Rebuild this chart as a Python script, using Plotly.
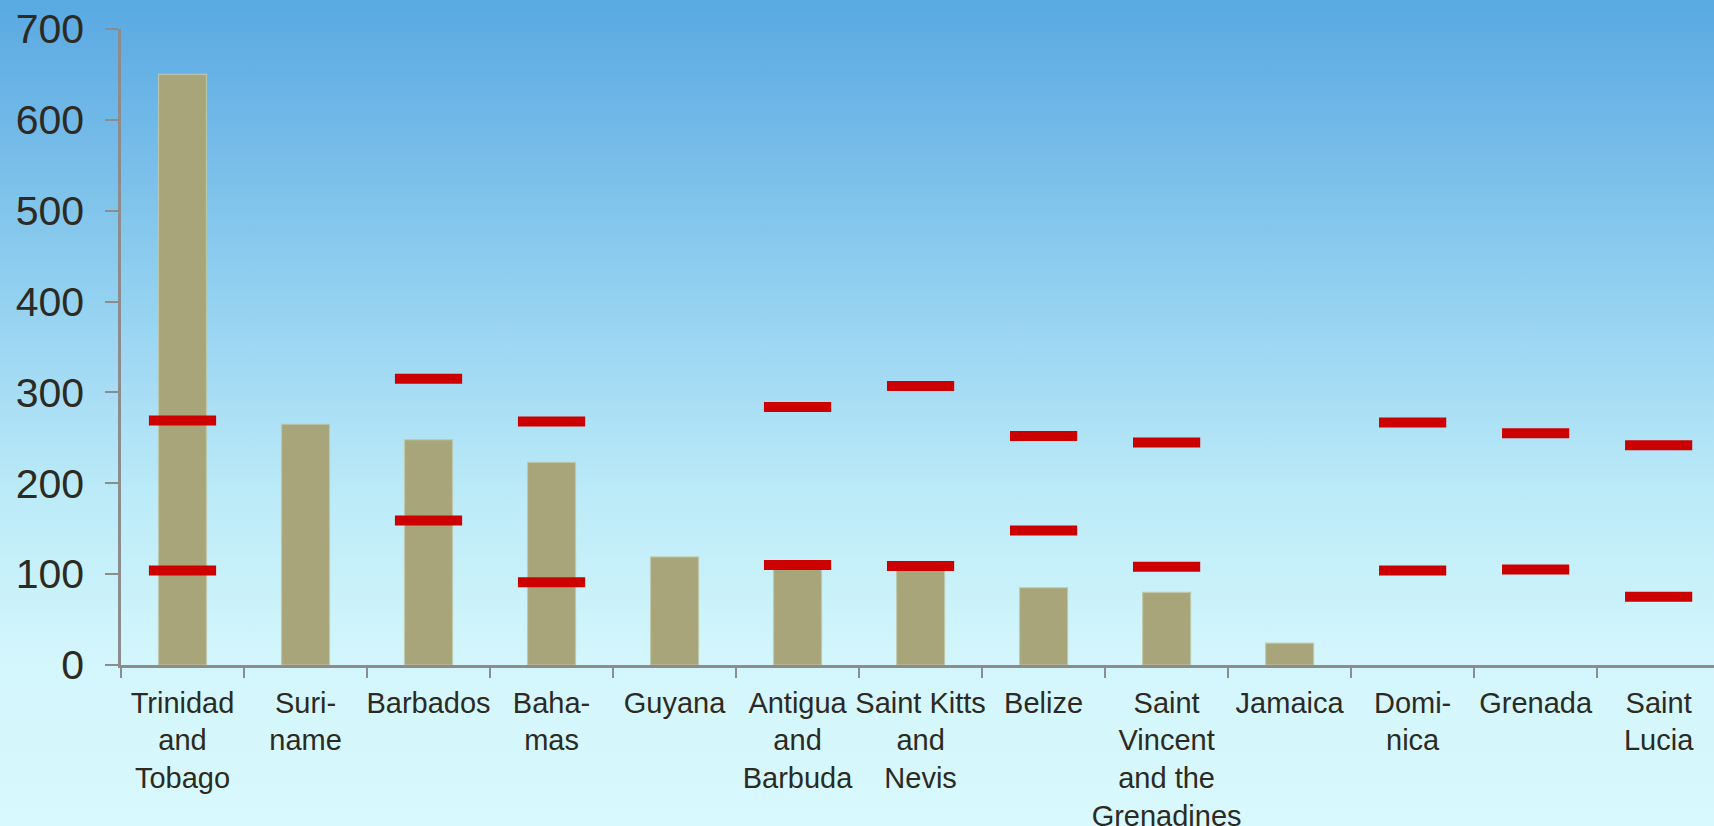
import base64
import plotly.graph_objects as go

categories = ["Trinidad<br>and<br>Tobago", "Suri-<br>name", "Barbados", "Baha-<br>mas", "Guyana",
              "Antigua<br>and<br>Barbuda", "Saint Kitts<br>and<br>Nevis", "Belize",
              "Saint<br>Vincent<br>and the<br>Grenadines", "Jamaica", "Domi-<br>nica", "Grenada",
              "Saint<br>Lucia"]
bar_values = [650, 265, 248, 223, 119, 115, 112, 85, 80, 24, None, None, None]
marker_high = [269, None, 315, 268, None, 284, 307, 252, 245, None, 267, 255, 242]
marker_low = [104, None, 159, 91, None, 110, 109, 148, 108, None, 104, 105, 75]
y_ticks = [0, 100, 200, 300, 400, 500, 600, 700]

W, H = 1714, 826
ML, MR, MT, MB = 121, 0, 29, 161
PW, PH = W - ML - MR, H - MT - MB

svg = f'''<svg xmlns="http://www.w3.org/2000/svg" width="{W}" height="{H}" preserveAspectRatio="none">
<defs><linearGradient id="g" x1="0" y1="0" x2="0" y2="1">
<stop offset="0" stop-color="#59A9E2"/>
<stop offset="0.145" stop-color="#70B8E7"/>
<stop offset="0.36" stop-color="#93D1F0"/>
<stop offset="0.44" stop-color="#A1D9F3"/>
<stop offset="0.6" stop-color="#BCEBF8"/>
<stop offset="0.8" stop-color="#D3F6FC"/>
<stop offset="1" stop-color="#D8F9FD"/>
</linearGradient></defs>
<rect x="0" y="0" width="{W}" height="{H}" fill="url(#g)"/></svg>'''
src = "data:image/svg+xml;base64," + base64.b64encode(svg.encode()).decode()

font_fam = "Liberation Sans, Arial, sans-serif"
txt_col = "#2C2A22"
axis_col = "#8C8C8C"

fig = go.Figure()
fig.add_trace(go.Bar(x=categories, y=bar_values, width=0.39,
                     marker=dict(color="#A8A57B", line=dict(color="rgba(190,200,170,0.9)", width=1.2)),
                     showlegend=False, hoverinfo="y"))
for vals in (marker_high, marker_low):
    fig.add_trace(go.Scatter(x=categories, y=vals, mode="markers",
                             marker=dict(symbol="line-ew", size=48, color="#CC0000",
                                         line=dict(color="#CC0000", width=10)),
                             showlegend=False, hoverinfo="y", cliponaxis=False))

fig.update_layout(
    width=W, height=H,
    margin=dict(l=ML, r=MR, t=MT, b=MB, pad=0),
    paper_bgcolor="#D8F9FD", plot_bgcolor="rgba(0,0,0,0)",
    images=[dict(source=src, xref="paper", yref="paper",
                 x=-ML / PW, y=1 + MT / PH, sizex=W / PW, sizey=H / PH,
                 xanchor="left", yanchor="top", sizing="stretch", layer="below")],
    xaxis=dict(range=[-0.5, 12.45], showgrid=False, zeroline=False, automargin=False,
               showline=True, linecolor=axis_col, linewidth=2.5,
               ticks="outside", tickson="boundaries", ticklen=10, tickwidth=2, tickcolor=axis_col,
               tickangle=0, tickfont=dict(family=font_fam, size=29, color=txt_col),
               ticklabelstandoff=10),
    yaxis=dict(range=[0, 700], tickvals=y_ticks, showgrid=False, zeroline=False, automargin=False,
               showline=True, linecolor=axis_col, linewidth=2.5,
               ticks="outside", ticklen=13, tickwidth=2, tickcolor=axis_col,
               tickfont=dict(family=font_fam, size=41, color=txt_col),
               ticklabelstandoff=13),
    bargap=0.6,
)

fig.write_html("out.html", config={"displayModeBar": False},
               post_script="document.body.style.margin='0';document.body.style.overflow='hidden';"
                           "document.documentElement.style.overflow='hidden';")
